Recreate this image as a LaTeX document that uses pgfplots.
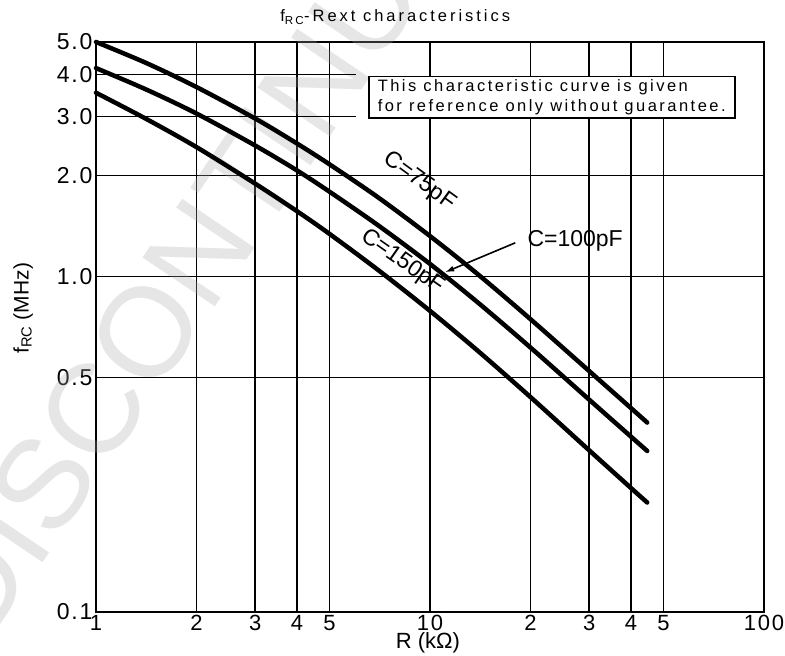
\documentclass[border=0pt]{standalone}
\usepackage{fontspec}
\setmainfont{Liberation Sans}
\newfontfamily\spaced[LetterSpace=15]{Liberation Sans}
\newfontfamily\titlefont[LetterSpace=18]{Liberation Sans}
\newfontfamily\tickfont[LetterSpace=8]{Liberation Sans}
\usepackage{pgfplots}
\pgfplotsset{compat=1.18}
\usetikzlibrary{arrows.meta}

\begin{document}
\begin{tikzpicture}
% page = 785 x 656, axis box 668 x 570 with its lower left corner at the origin
\path[use as bounding box] (-96pt,-44pt) rectangle (689pt,612pt);
\begin{axis}[
    at={(0,0)}, anchor=south west,
    scale only axis,
    width=668pt, height=570pt,
    xmode=log, ymode=log,
    xmin=1, xmax=100, ymin=0.1, ymax=5,
    xtick={1,2,3,4,5,10,20,30,40,50,100},
    xticklabels={1,2,3,4,5,10,2,3,4,5,100},
    ytick={0.1,0.5,1,2,5},
    yticklabels={0.1,0.5,1.0,2.0,5.0},
    extra y ticks={3,4},
    extra y tick labels={3.0,4.0},
    extra y tick style={grid=none},
    minor xtick={}, minor ytick={},
    grid=major,
    major grid style={black, line width=1.8pt},
    major tick length=0pt,
    axis line style={line width=2.5pt},
    x tick label style={font=\tickfont\fontsize{22}{22}\selectfont},
    y tick label style={font=\tickfont\fontsize{23}{23}\selectfont},
    clip=false,
]
% watermark
\node[rotate=56, text=gray!70, opacity=0.28, font=\fontsize{127}{127}\selectfont]
    at (axis description cs:0.184,0.681) {DISCONTINUED};

% short grid lines at 3.0 and 4.0
\addplot[black, line width=1.8pt] coordinates {(1,3) (6,3)};
\addplot[black, line width=1.8pt] coordinates {(1,4) (6,4)};

% C = 75 pF
\addplot[black, line width=4.5pt, line cap=round, smooth] coordinates {
    (1,5.0) (1.413,4.33) (2,3.67) (3,2.955) (4,2.49) (5,2.16) (7,1.72)
    (10,1.32) (14,1.01) (20,0.746) (30,0.522) (40,0.405) (44.7,0.367)};
% C = 100 pF
\addplot[black, line width=4.5pt, line cap=round, smooth] coordinates {
    (1,4.18) (1.413,3.61) (2,3.06) (3,2.455) (4,2.07) (5,1.79) (7,1.42)
    (10,1.09) (14,0.832) (20,0.614) (30,0.429) (40,0.333) (44.7,0.302)};
% C = 150 pF
\addplot[black, line width=4.5pt, line cap=round, smooth] coordinates {
    (1,3.53) (1.413,2.95) (2,2.43) (3,1.89) (4,1.565) (5,1.34) (7,1.045)
    (10,0.79) (14,0.597) (20,0.437) (30,0.303) (40,0.234) (44.7,0.212)};

% note box
\node[draw=black, line width=1.6pt, fill=white, anchor=north west,
      align=left, inner xsep=9pt, inner ysep=3pt,
      font=\spaced\fontsize{16.5}{20}\selectfont]
    at (axis cs:6.52,3.97)
    {This characteristic curve is given\\for reference only without guarantee.};

% curve labels
\node[rotate=-36, font=\fontsize{23}{23}\selectfont] at (axis cs:9.3,1.92) {C=75pF};
\node[rotate=-35, font=\fontsize{23}{23}\selectfont] at (axis cs:8.25,1.105) {C=150pF};
\node[font=\fontsize{23}{23}\selectfont] at (axis cs:27.2,1.276) {C=100pF};
\draw[-{Latex[length=9pt,width=6pt]}, line width=1.6pt]
    (axis cs:18,1.26) -- (axis cs:11.1,1.03);

% title and axis labels
\node[font=\titlefont\fontsize{16.5}{16.5}\selectfont]
    at (axis description cs:0.448,1.044) {f\textsubscript{RC}-Rext characteristics};
\node[font=\fontsize{22}{22}\selectfont]
    at (axis description cs:0.497,-0.054) {R (kΩ)};
\node[rotate=90, font=\fontsize{21}{21}\selectfont]
    at (axis description cs:-0.109,0.533) {f\textsubscript{RC} (MHz)};
\end{axis}
\end{tikzpicture}
\end{document}
